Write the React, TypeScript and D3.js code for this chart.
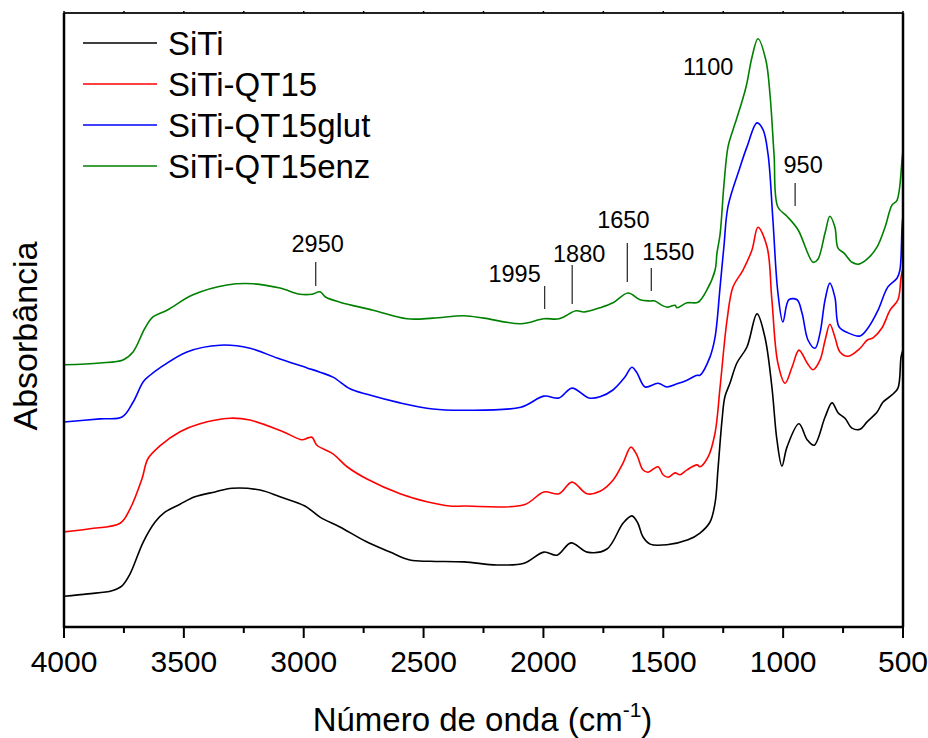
import React from "react";
import * as d3 from "d3";

// FTIR spectra: [wavenumber (cm-1), absorbance (a.u.)]
const siTi: [number, number][] = [
  [4000, 0.05], [3900, 0.054], [3800, 0.059], [3758, 0.067], [3725, 0.086], [3670, 0.138],
  [3620, 0.171], [3579, 0.187], [3516, 0.2], [3454, 0.212], [3370, 0.22], [3299, 0.226],
  [3182, 0.223], [3099, 0.212], [2995, 0.197], [2932, 0.179], [2849, 0.163], [2744, 0.14],
  [2640, 0.122], [2557, 0.109], [2473, 0.107], [2331, 0.106], [2194, 0.101], [2081, 0.104],
  [1998, 0.122], [1943, 0.117], [1885, 0.137], [1818, 0.122], [1735, 0.127], [1668, 0.169],
  [1631, 0.181], [1606, 0.169], [1585, 0.147], [1555, 0.135], [1485, 0.134], [1397, 0.142],
  [1347, 0.153], [1305, 0.171], [1284, 0.202], [1272, 0.256], [1255, 0.337], [1243, 0.375],
  [1222, 0.397], [1193, 0.43], [1151, 0.456], [1109, 0.51], [1076, 0.472], [1047, 0.391],
  [1026, 0.305], [1005, 0.262], [984, 0.293], [934, 0.331], [900, 0.305], [871, 0.296],
  [825, 0.342], [796, 0.365], [771, 0.349], [742, 0.34], [713, 0.324], [679, 0.322],
  [650, 0.334], [608, 0.35], [584, 0.366], [546, 0.378], [521, 0.389], [508, 0.44], [500, 0.451],
];

const siTiQT15: [number, number][] = [
  [4000, 0.155], [3892, 0.16], [3766, 0.169], [3725, 0.192], [3675, 0.241], [3650, 0.274],
  [3600, 0.295], [3516, 0.318], [3433, 0.331], [3308, 0.34], [3224, 0.337], [3086, 0.318],
  [3007, 0.305], [2982, 0.308], [2965, 0.309], [2945, 0.296], [2878, 0.282], [2819, 0.261],
  [2736, 0.241], [2598, 0.217], [2486, 0.204], [2390, 0.197], [2331, 0.197], [2081, 0.199],
  [1998, 0.22], [1935, 0.217], [1881, 0.236], [1818, 0.217], [1764, 0.221], [1710, 0.239],
  [1668, 0.267], [1635, 0.293], [1610, 0.28], [1585, 0.256], [1564, 0.252], [1522, 0.261],
  [1501, 0.248], [1480, 0.244], [1451, 0.251], [1430, 0.248], [1401, 0.256], [1359, 0.264],
  [1347, 0.261], [1313, 0.277], [1284, 0.316], [1263, 0.391], [1234, 0.5], [1209, 0.554],
  [1168, 0.581], [1130, 0.614], [1105, 0.651], [1067, 0.619], [1047, 0.533], [1022, 0.43],
  [992, 0.397], [963, 0.423], [934, 0.451], [900, 0.43], [875, 0.419], [846, 0.435],
  [825, 0.467], [805, 0.493], [784, 0.472], [763, 0.448], [729, 0.441], [679, 0.454],
  [650, 0.467], [625, 0.471], [588, 0.487], [554, 0.516], [521, 0.533], [508, 0.57], [500, 0.585],
];

const siTiQT15glut: [number, number][] = [
  [4000, 0.334], [3850, 0.339], [3758, 0.342], [3712, 0.366], [3670, 0.399], [3641, 0.41],
  [3600, 0.422], [3487, 0.448], [3349, 0.459], [3224, 0.454], [3111, 0.438], [2986, 0.422],
  [2932, 0.415], [2878, 0.407], [2807, 0.388], [2736, 0.379], [2598, 0.365], [2461, 0.355],
  [2331, 0.353], [2094, 0.358], [1998, 0.376], [1935, 0.373], [1881, 0.389], [1810, 0.373],
  [1764, 0.375], [1710, 0.386], [1660, 0.407], [1631, 0.423], [1610, 0.414], [1576, 0.391],
  [1522, 0.397], [1485, 0.391], [1443, 0.396], [1401, 0.402], [1359, 0.41], [1347, 0.41],
  [1305, 0.44], [1284, 0.472], [1263, 0.554], [1247, 0.62], [1230, 0.685], [1184, 0.744],
  [1151, 0.782], [1109, 0.821], [1084, 0.81], [1063, 0.77], [1043, 0.665], [1022, 0.545],
  [1001, 0.497], [976, 0.533], [942, 0.533], [921, 0.511], [896, 0.467], [867, 0.454],
  [846, 0.479], [825, 0.533], [805, 0.56], [784, 0.537], [767, 0.489], [729, 0.479],
  [679, 0.474], [646, 0.487], [604, 0.516], [563, 0.554], [525, 0.568], [513, 0.581],
  [504, 0.651], [500, 0.671],
];

const siTiQT15enz: [number, number][] = [
  [4000, 0.427], [3850, 0.43], [3754, 0.435], [3712, 0.448], [3662, 0.487], [3629, 0.505],
  [3570, 0.516], [3462, 0.541], [3320, 0.557], [3212, 0.559], [3099, 0.552], [3016, 0.542],
  [2965, 0.542], [2932, 0.546], [2907, 0.537], [2849, 0.529], [2711, 0.516], [2569, 0.502],
  [2461, 0.503], [2331, 0.507], [2248, 0.503], [2094, 0.494], [1998, 0.502], [1935, 0.502],
  [1864, 0.515], [1831, 0.513], [1764, 0.52], [1710, 0.528], [1647, 0.544], [1597, 0.533],
  [1555, 0.531], [1535, 0.531], [1501, 0.523], [1480, 0.521], [1451, 0.524], [1443, 0.52],
  [1401, 0.528], [1355, 0.529], [1318, 0.549], [1284, 0.581], [1276, 0.609], [1263, 0.64],
  [1247, 0.72], [1230, 0.782], [1209, 0.81], [1193, 0.829], [1155, 0.879], [1130, 0.928],
  [1105, 0.958], [1072, 0.923], [1055, 0.868], [1038, 0.77], [1022, 0.684], [984, 0.669],
  [938, 0.647], [875, 0.594], [855, 0.599], [825, 0.642], [805, 0.669], [784, 0.651],
  [771, 0.617], [746, 0.609], [713, 0.594], [684, 0.591], [650, 0.599], [608, 0.619],
  [575, 0.651], [546, 0.687], [525, 0.695], [504, 0.761], [500, 0.777],
];

const seriesNames = ["SiTi", "SiTi-QT15", "SiTi-QT15glut", "SiTi-QT15enz"];
const seriesData = [siTi, siTiQT15, siTiQT15glut, siTiQT15enz];
const seriesColors = ["#000000", "#ff0000", "#0000ff", "#008000"];

const xTicks = [4000, 3500, 3000, 2500, 2000, 1500, 1000, 500];
const xMinorTicks = [3750, 3250, 2750, 2250, 1750, 1250, 750];

// band assignments marked above the spectra
const bandLabels = [2950, 1995, 1880, 1650, 1550, 1100, 950];

// placement of each band label: text centre offset from the marker, text baseline, marker span
const bandLayout: Record<number, { dx: number; ty: number; line?: [number, number] }> = {
  2950: { dx: 2, ty: 252, line: [262, 286] },
  1995: { dx: -30, ty: 282, line: [286, 309] },
  1880: { dx: 7, ty: 262, line: [265, 304] },
  1650: { dx: -4, ty: 228, line: [243, 282] },
  1550: { dx: 17, ty: 260, line: [268, 291] },
  1100: { dx: -51, ty: 75 },
  950: { dx: 8, ty: 173, line: [183, 206] },
};

const W = 928;
const H = 738;
const left = 64;
const right = 903;
const top = 13;
const bottom = 627;
const font = "'Liberation Sans', Arial, Helvetica, sans-serif";

export default function App() {
  const x = d3.scaleLinear().domain([4000, 500]).range([left, right]);
  const y = d3.scaleLinear().domain([0, 1]).range([bottom, top]);
  const line = d3
    .line<[number, number]>()
    .x((d) => x(d[0]))
    .y((d) => y(d[1]))
    .curve(d3.curveCatmullRom.alpha(0.5));

  return (
    <svg
      width={W}
      height={H}
      viewBox={`0 0 ${W} ${H}`}
      style={{ display: "block", position: "absolute", left: 0, top: 0, background: "#fff" }}
      fontFamily={font}
    >
      {/* spectra */}
      <g fill="none" strokeWidth={1.6} strokeLinejoin="round">
        {seriesData.map((s, i) => (
          <path key={seriesNames[i]} d={line(s) || ""} stroke={seriesColors[i]} />
        ))}
      </g>

      {/* band markers */}
      <g>
        {bandLabels.map((b) => {
          const l = bandLayout[b];
          const bx = x(b);
          return (
            <g key={b}>
              {l.line && (
                <line x1={bx} x2={bx} y1={l.line[0]} y2={l.line[1]} stroke="#333" strokeWidth={1.3} />
              )}
              <text x={bx + l.dx} y={l.ty} fontSize={23.5} textAnchor="middle" fill="#000">
                {b}
              </text>
            </g>
          );
        })}
      </g>

      {/* frame */}
      <line x1={left} x2={right} y1={top} y2={top} stroke="#222" strokeWidth={2} />
      <line x1={right} x2={right} y1={top} y2={bottom} stroke="#000" strokeWidth={2.5} />
      <line x1={left} x2={left} y1={top} y2={bottom + 1} stroke="#000" strokeWidth={2.5} />
      <line x1={left - 1} x2={right + 1} y1={bottom} y2={bottom} stroke="#000" strokeWidth={2.5} />

      {/* x ticks */}
      <g stroke="#000" strokeWidth={2}>
        {xTicks.map((t) => (
          <line key={`M${t}`} x1={x(t)} x2={x(t)} y1={bottom} y2={bottom + 11} />
        ))}
        {xMinorTicks.map((t) => (
          <line key={`m${t}`} x1={x(t)} x2={x(t)} y1={bottom} y2={bottom + 6} />
        ))}
        {xTicks.concat(xMinorTicks).map((t) => (
          <line key={`t${t}`} x1={x(t)} x2={x(t)} y1={top} y2={top - 2} strokeWidth={1.5} />
        ))}
      </g>
      <g fontSize={30} textAnchor="middle" fill="#000">
        {xTicks.map((t) => (
          <text key={t} x={x(t)} y={672}>
            {t}
          </text>
        ))}
      </g>

      {/* axis titles */}
      <text x={(left + right) / 2 - 1} y={731} fontSize={33} textAnchor="middle" fill="#000">
        <tspan>Número de onda (cm</tspan>
        <tspan fontSize={21} dy={-14}>-1</tspan>
        <tspan dy={14}>)</tspan>
      </text>
      <text transform="translate(37,336) rotate(-90)" fontSize={34} textAnchor="middle" fill="#000">
        Absorbância
      </text>

      {/* legend */}
      <g>
        {seriesNames.map((n, i) => (
          <g key={n} transform={`translate(0,${43 + i * 41})`}>
            <line x1={83} x2={157} y1={0} y2={0} stroke={seriesColors[i]} strokeWidth={1.6} />
            <text x={168} y={12} fontSize={33} fill="#000">
              {n}
            </text>
          </g>
        ))}
      </g>
    </svg>
  );
}
